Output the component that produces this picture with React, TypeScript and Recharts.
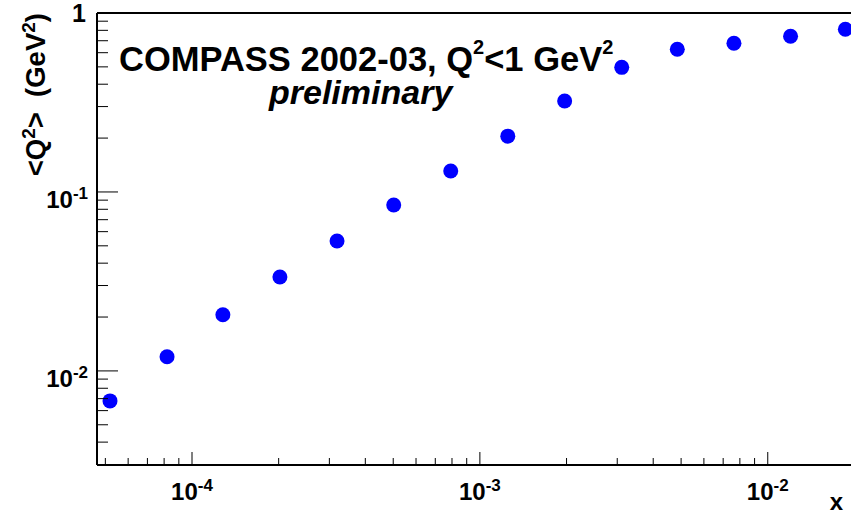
import React from 'react';
import { ScatterChart, Scatter, XAxis, YAxis, ReferenceLine } from 'recharts';

// mean Q^2 per x bin
const xBins = [5.19e-5, 8.19e-5, 1.28e-4, 2.02e-4, 3.19e-4, 5.02e-4, 7.92e-4, 1.25e-3, 1.97e-3, 3.11e-3, 4.85e-3, 7.63e-3, 1.2e-2, 1.86e-2];
const meanQ2 = [0.0068, 0.012, 0.0206, 0.0335, 0.0532, 0.0846, 0.131, 0.205, 0.322, 0.497, 0.627, 0.677, 0.741, 0.811];

const xDomain = [4.677e-5, 0.01946];
const yDomain = [0.00298, 1];
const xMajor = [1e-4, 1e-3, 1e-2];
const yMajor = [1e-2, 1e-1, 1];
const minorSteps = [2, 3, 4, 5, 6, 7, 8, 9];

const W = 851;
const H = 514;
const FONT = '"Liberation Sans", Arial, Helvetica, sans-serif';

const data = xBins.map((x, i) => ({ x, q2: meanQ2[i] }));

const withMinors = (majors: number[], lo: number, hi: number) => {
  const out: number[] = [];
  majors.concat([majors[0] / 10]).forEach((m) => {
    out.push(m);
    minorSteps.forEach((k) => out.push(m * k));
  });
  return out.filter((v) => v >= lo && v <= hi).sort((a, b) => a - b);
};
const xTicks = withMinors(xMajor, xDomain[0], xDomain[1]);
const yTicks = withMinors(yMajor, 0.0035, yDomain[1]);

const isMajor = (v: number, majors: number[]) => majors.some((m) => Math.abs(Math.log10(v / m)) < 1e-6);

const XTick = (props: any) => {
  const { x, y, payload } = props;
  const v = payload.value;
  const major = isMajor(v, xMajor);
  return (
    <g>
      <line x1={x} x2={x} y1={y} y2={y - (major ? 13 : 7)} stroke="#000" strokeWidth={1} />
      {major && (
        <text x={x} y={y + 35} textAnchor="middle" fontFamily={FONT} fontWeight="bold" fontSize={24} fill="#000">
          10<tspan dy={-9} fontSize={17}>{Math.round(Math.log10(v))}</tspan>
        </text>
      )}
    </g>
  );
};

const YTick = (props: any) => {
  const { x, y, payload } = props;
  const v = payload.value;
  const major = isMajor(v, yMajor);
  const exp = Math.round(Math.log10(v));
  return (
    <g>
      <line x1={x} x2={x + (major ? 21 : 11)} y1={y} y2={y} stroke="#000" strokeWidth={1} />
      {major && exp === 0 && (
        <text x={x - 11} y={y + 9} textAnchor="end" fontFamily={FONT} fontWeight="bold" fontSize={25} fill="#000">
          1
        </text>
      )}
      {major && exp !== 0 && (
        <text x={x - 9} y={y + 16} textAnchor="end" fontFamily={FONT} fontWeight="bold" fontSize={24} fill="#000">
          10<tspan dy={-9} fontSize={17}>{exp}</tspan>
        </text>
      )}
    </g>
  );
};

const Dot = (props: any) => <circle cx={props.cx} cy={props.cy} r={7.5} fill="#0000ff" />;

export default function App() {
  return (
    <div style={{ position: 'absolute', left: 0, top: 0, width: W, height: H, background: '#fff' }}>
      <ScatterChart width={W} height={H} margin={{ top: 13, right: 0, bottom: 0, left: 0 }}>
        <XAxis
          dataKey="x"
          type="number"
          scale="log"
          domain={xDomain}
          allowDataOverflow
          ticks={xTicks}
          interval={0}
          tickSize={0}
          tickMargin={0}
          tickLine={false}
          tick={<XTick />}
          height={49}
          axisLine={{ stroke: '#000', strokeWidth: 2 }}
        />
        <YAxis
          dataKey="q2"
          type="number"
          scale="log"
          domain={yDomain}
          allowDataOverflow
          ticks={yTicks}
          interval={0}
          tickSize={0}
          tickMargin={0}
          tickLine={false}
          tick={<YTick />}
          width={97}
          axisLine={{ stroke: '#000', strokeWidth: 2 }}
        />
        <ReferenceLine y={1} stroke="#000" strokeWidth={2} />
        <Scatter data={data} shape={<Dot />} isAnimationActive={false} />
      </ScatterChart>
      <svg width={W} height={H} style={{ position: 'absolute', left: 0, top: 0, pointerEvents: 'none' }}>
        <g fontFamily={FONT} fontWeight="bold" fill="#000">
          <text x={119} y={71} fontSize={34.5}>
            COMPASS 2002-03, Q<tspan dy={-17} fontSize={20}>2</tspan>
            <tspan dy={17}>{'<1 GeV'}</tspan>
            <tspan dy={-17} fontSize={20}>2</tspan>
          </text>
          <text x={269} y={104} fontSize={34} fontStyle="italic">
            preliminary
          </text>
          <text x={843} y={510} fontSize={24} textAnchor="end">
            x
          </text>
          <text x={45} y={13} fontSize={27.5} textAnchor="end" transform="rotate(-90 45 13)" style={{ whiteSpace: 'pre' }}>
            {'<Q'}<tspan dy={-10} fontSize={19}>2</tspan>
            <tspan dy={10}>{'>  (GeV'}</tspan>
            <tspan dy={-10} fontSize={19}>2</tspan>
            <tspan dy={10}>)</tspan>
          </text>
        </g>
      </svg>
    </div>
  );
}
